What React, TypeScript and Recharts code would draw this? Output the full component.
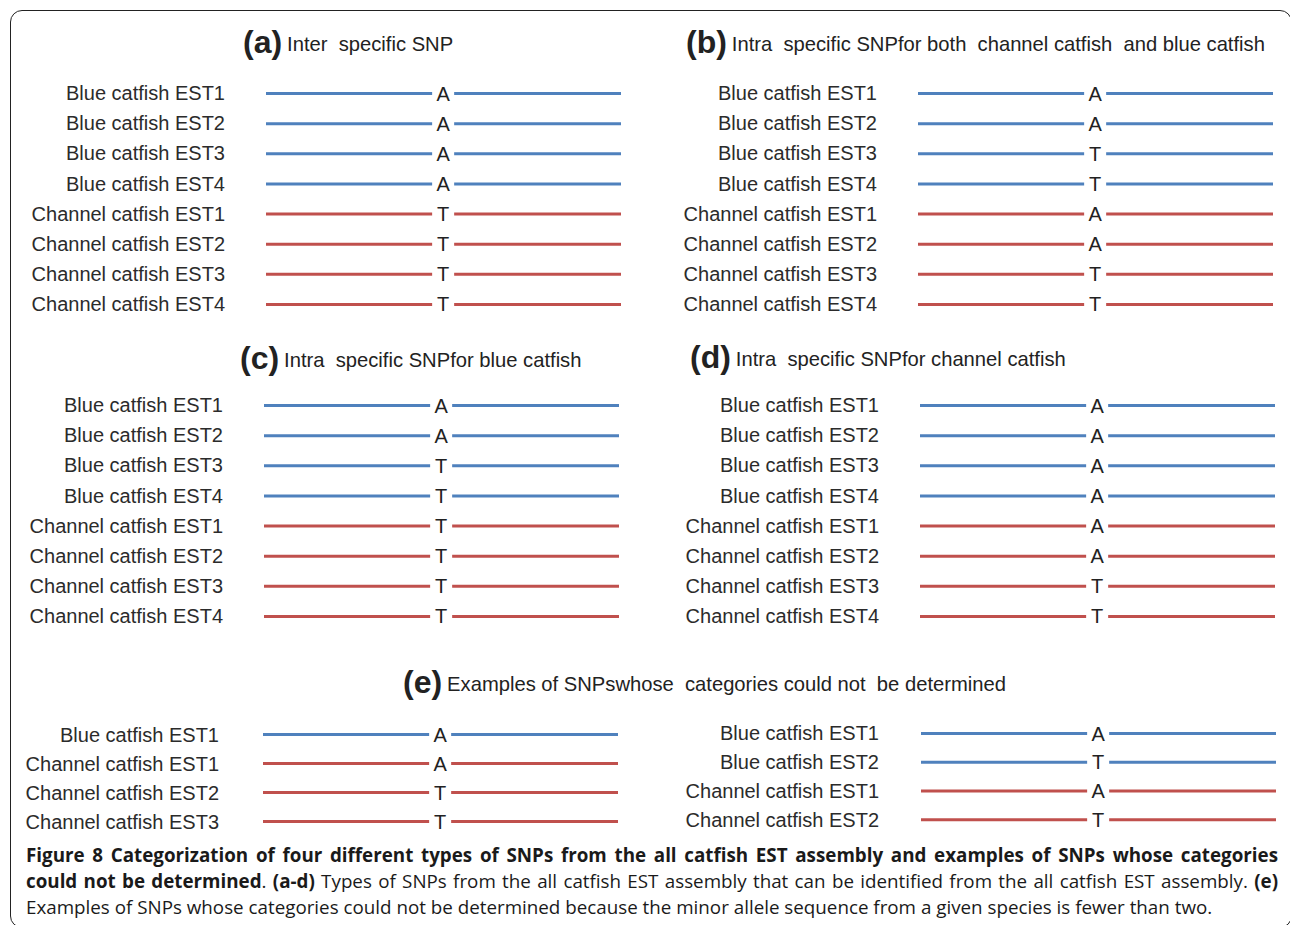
import React from 'react';
import { BarChart, Bar, XAxis, YAxis, Cell, LabelList } from 'recharts';

// row labels and the allele shown at the SNP site for each row
const rowsFour = [
  'Blue catfish EST1',
  'Blue catfish EST2',
  'Blue catfish EST3',
  'Blue catfish EST4',
  'Channel catfish EST1',
  'Channel catfish EST2',
  'Channel catfish EST3',
  'Channel catfish EST4',
];
const allelesA = ['A', 'A', 'A', 'A', 'T', 'T', 'T', 'T'];
const allelesB = ['A', 'A', 'T', 'T', 'A', 'A', 'T', 'T'];
const allelesC = ['A', 'A', 'T', 'T', 'T', 'T', 'T', 'T'];
const allelesD = ['A', 'A', 'A', 'A', 'A', 'A', 'T', 'T'];

const rowsE1 = ['Blue catfish EST1', 'Channel catfish EST1', 'Channel catfish EST2', 'Channel catfish EST3'];
const allelesE1 = ['A', 'A', 'T', 'T'];
const rowsE2 = ['Blue catfish EST1', 'Blue catfish EST2', 'Channel catfish EST1', 'Channel catfish EST2'];
const allelesE2 = ['A', 'T', 'A', 'T'];

const titleTags = ['(a)', '(b)', '(c)', '(d)', '(e)'];
const titleTexts = [
  'Inter  specific SNP',
  'Intra  specific SNPfor both  channel catfish  and blue catfish',
  'Intra  specific SNPfor blue catfish',
  'Intra  specific SNPfor channel catfish',
  'Examples of SNPswhose  categories could not  be determined',
];

const BLUE = '#4f81bd';
const RED = '#c0504d';
const FIG_FONT = '"Liberation Sans", Arial, sans-serif';
const CAP_FONT = '"Open Sans", "Noto Sans", sans-serif';

// share of the sequence drawn left of the SNP, the gap for the letter, and the right part
const SEG_LEFT = 46.8;
const SEG_GAP = 6.2;
const SEG_RIGHT = 47;
const AXIS_W = 240;
const PLOT_W = 355;

function SnpPanel({ rows, alleles, lineStart, top, height, labelGap }: any) {
  const data = rows.map((label: string, i: number) => ({
    label,
    allele: alleles[i],
    left: SEG_LEFT,
    gap: SEG_GAP,
    right: SEG_RIGHT,
  }));
  const colorOf = (label: string) => (label.startsWith('Blue') ? BLUE : RED);

  return (
    <div style={{ position: 'absolute', left: lineStart - AXIS_W, top }}>
      <BarChart
        width={AXIS_W + PLOT_W}
        height={height}
        data={data}
        layout="vertical"
        margin={{ top: 0, right: 0, bottom: 0, left: 0 }}
      >
        <XAxis type="number" domain={[0, 100]} hide />
        <YAxis
          type="category"
          dataKey="label"
          width={AXIS_W}
          tickLine={false}
          axisLine={false}
          tickSize={0}
          tickMargin={labelGap}
          interval={0}
          tick={{ fontSize: 20, fill: '#2b2b2b', fontFamily: FIG_FONT }}
        />
        <Bar dataKey="left" stackId="s" barSize={3} isAnimationActive={false}>
          {data.map((d: any, i: number) => (
            <Cell key={i} fill={colorOf(d.label)} />
          ))}
        </Bar>
        <Bar dataKey="gap" stackId="s" barSize={3} fill="#fff" fillOpacity={0} isAnimationActive={false}>
          <LabelList
            dataKey="allele"
            position="center"
            fill="#222"
            fontSize={20}
            fontFamily={FIG_FONT}
          />
        </Bar>
        <Bar dataKey="right" stackId="s" barSize={3} isAnimationActive={false}>
          {data.map((d: any, i: number) => (
            <Cell key={i} fill={colorOf(d.label)} />
          ))}
        </Bar>
      </BarChart>
    </div>
  );
}

function Title({ x, y, idx }: { x: number; y: number; idx: number }) {
  return (
    <div
      style={{
        position: 'absolute',
        left: x,
        top: y - 19,
        height: 38,
        display: 'flex',
        alignItems: 'center',
        gap: 5,
        whiteSpace: 'pre',
        color: '#222',
        fontFamily: FIG_FONT,
      }}
    >
      <span style={{ fontSize: 32, fontWeight: 'bold' }}>{titleTags[idx]}</span>
      <span style={{ fontSize: 20.2, paddingTop: 5 }}>{titleTexts[idx]}</span>
    </div>
  );
}

export default function App() {
  const lineStyle: React.CSSProperties = {
    position: 'absolute',
    left: 26,
    width: 1252,
    height: 26,
    lineHeight: '26px',
    fontSize: 18.8,
    fontFamily: CAP_FONT,
    color: '#1a1a1a',
    whiteSpace: 'nowrap',
  };
  const justified: React.CSSProperties = { textAlign: 'justify', textAlignLast: 'justify', whiteSpace: 'normal' };

  return (
    <div
      style={{
        position: 'absolute',
        left: 0,
        top: 0,
        width: 1290,
        height: 925,
        overflow: 'hidden',
        background: '#fff',
      }}
    >
      {/* frame */}
      <div
        style={{
          position: 'absolute',
          left: 10,
          top: 10,
          width: 1282,
          height: 918,
          border: '1.5px solid #222',
          borderRadius: 12,
          boxSizing: 'border-box',
        }}
      />

      <Title x={243} y={42} idx={0} />
      <Title x={686} y={42} idx={1} />
      <Title x={240} y={358} idx={2} />
      <Title x={690} y={357} idx={3} />
      <Title x={403} y={682} idx={4} />

      <SnpPanel rows={rowsFour} alleles={allelesA} lineStart={266} top={78} height={241} labelGap={41} />
      <SnpPanel rows={rowsFour} alleles={allelesB} lineStart={918} top={78} height={241} labelGap={41} />
      <SnpPanel rows={rowsFour} alleles={allelesC} lineStart={264} top={390} height={241} labelGap={41} />
      <SnpPanel rows={rowsFour} alleles={allelesD} lineStart={920} top={390} height={241} labelGap={41} />
      <SnpPanel rows={rowsE1} alleles={allelesE1} lineStart={263} top={720} height={116} labelGap={44} />
      <SnpPanel rows={rowsE2} alleles={allelesE2} lineStart={921} top={719} height={115} labelGap={42} />

      {/* caption */}
      <div style={{ ...lineStyle, ...justified, top: 842, fontWeight: 'bold' }}>
        Figure 8 Categorization of four different types of SNPs from the all catfish EST assembly and examples of SNPs whose categories
      </div>
      <div style={{ ...lineStyle, ...justified, top: 868 }}>
        <b>could not be determined</b>. <b>(a-d)</b> Types of SNPs from the all catfish EST assembly that can be identified from the all catfish EST assembly. <b>(e)</b>
      </div>
      <div style={{ ...lineStyle, top: 894 }}>
        Examples of SNPs whose categories could not be determined because the minor allele sequence from a given species is fewer than two.
      </div>
    </div>
  );
}
